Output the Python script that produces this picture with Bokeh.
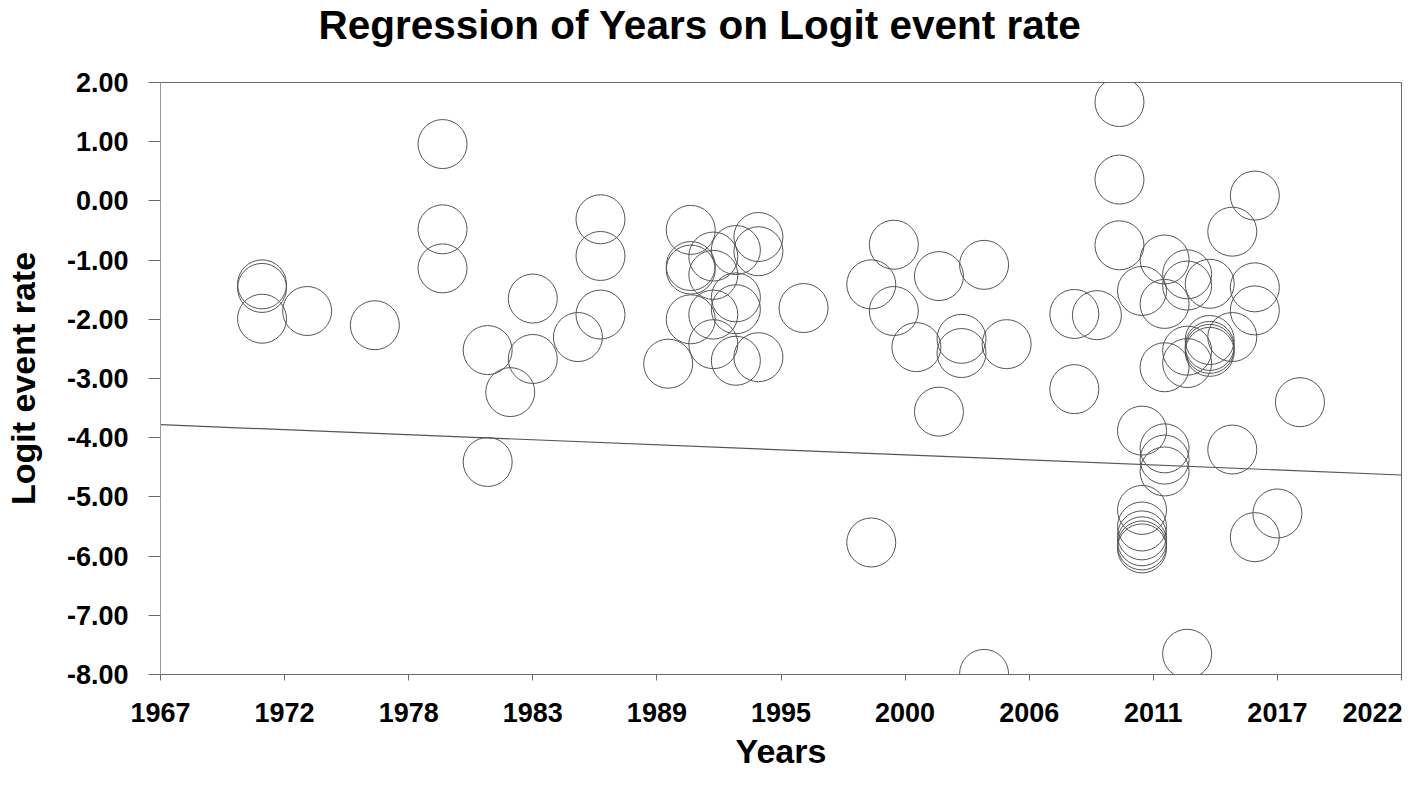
from bokeh.plotting import figure
from bokeh.models import FixedTicker, NumeralTickFormatter, ColumnDataSource, Range1d, Title
from bokeh.embed import file_html
from bokeh.resources import INLINE

title_text = "Regression of Years on Logit event rate"
x_label = "Years"
y_label = "Logit event rate"

x_ticks = [1967, 1972.5, 1978, 1983.5, 1989, 1994.5, 2000, 2005.5, 2011, 2016.5, 2022]
x_tick_labels = ["1967", "1972", "1978", "1983", "1989", "1995", "2000", "2006", "2011", "2017", "2022"]
y_ticks = [-8, -7, -6, -5, -4, -3, -2, -1, 0, 1, 2]

years = [
    1971.5, 1971.5, 1971.5,
    1973.5,
    1976.5,
    1979.5, 1979.5, 1979.5,
    1981.5, 1981.5,
    1982.5,
    1983.5, 1983.5,
    1985.5,
    1986.5, 1986.5, 1986.5,
    1989.5,
    1990.5, 1990.5, 1990.5, 1990.5,
    1991.5, 1991.5, 1991.5, 1991.5,
    1992.5, 1992.5, 1992.5, 1992.5,
    1993.5, 1993.5, 1993.5,
    1995.5,
    1998.5, 1998.5,
    1999.5, 1999.5,
    2000.5,
    2001.5, 2001.5,
    2002.5, 2002.5,
    2003.5, 2003.5,
    2004.5,
    2007.5, 2007.5,
    2008.5,
    2009.5, 2009.5, 2009.5,
    2010.5, 2010.5, 2010.5, 2010.5, 2010.5, 2010.5, 2010.5, 2010.5,
    2011.5, 2011.5, 2011.5, 2011.5, 2011.5, 2011.5,
    2012.5, 2012.5, 2012.5, 2012.5, 2012.5,
    2013.5, 2013.5, 2013.5, 2013.5, 2013.5,
    2014.5, 2014.5, 2014.5,
    2015.5, 2015.5, 2015.5, 2015.5,
    2016.5,
    2017.5,
]
logit = [
    -1.41, -1.47, -1.99,
    -1.86,
    -2.10,
    0.96, -0.48, -1.14,
    -2.52, -4.41,
    -3.23,
    -1.65, -2.67,
    -2.30,
    -0.31, -0.93, -1.92,
    -2.75,
    -0.49, -1.10, -1.16, -2.00,
    -0.94, -1.25, -1.92, -2.42,
    -0.83, -1.63, -1.83, -2.70,
    -0.61, -0.85, -2.64,
    -1.81,
    -1.41, -5.77,
    -0.74, -1.86,
    -2.47,
    -1.27, -3.56,
    -2.33, -2.57,
    -1.08, -7.99,
    -2.42,
    -1.91, -3.18,
    -1.93,
    1.67, 0.36, -0.75,
    -1.52, -3.88, -5.22, -5.50, -5.65, -5.75, -5.82, -5.87,
    -0.99, -1.74, -2.81, -4.18, -4.37, -4.57,
    -1.24, -1.43, -2.53, -2.74, -7.65,
    -1.40, -2.35, -2.45, -2.50, -2.55,
    -0.52, -2.30, -4.20,
    0.09, -1.46, -1.85, -5.68,
    -5.28,
    -3.40,
]

reg_years = [1967, 2022]
reg_logit = [-3.78, -4.63]

FONT = "Liberation Sans"

p = figure(
    width=1402, height=775,
    x_range=Range1d(1967, 2022), y_range=Range1d(-8, 2),
    output_backend="svg", toolbar_location=None,
    min_border_left=155, min_border_right=1, min_border_top=82, min_border_bottom=101,
)
p.background_fill_color = "white"
p.border_fill_color = "white"
p.outline_line_color = "#6a6a6a"
p.outline_line_width = 1
p.xgrid.visible = False
p.ygrid.visible = False

# invisible spacer between the frame and the title, so the title sits near the top edge
spacer = Title(text=" ", text_font=FONT, text_font_size="10px", standoff=20)
p.add_layout(spacer, "above")

main_title = Title(
    text=title_text, text_font=FONT, text_font_style="bold",
    text_font_size="40.5px", text_color="black",
    align="left", offset=158, vertical_align="top", standoff=0,
)
p.add_layout(main_title, "above")

src = ColumnDataSource(dict(x=years, y=logit))
p.scatter("x", "y", source=src, size=49, marker="circle",
          fill_color=None, line_color="#555555", line_width=1)

p.line(reg_years, reg_logit, line_color="#555555", line_width=1.2)

xa = p.xaxis[0]
xa.ticker = FixedTicker(ticks=x_ticks)
xa.major_label_overrides = {t: l for t, l in zip(x_ticks, x_tick_labels)}
xa.axis_label = x_label
xa.axis_line_color = "#6a6a6a"
xa.major_tick_line_color = "#6a6a6a"
xa.major_tick_out = 6
xa.major_tick_in = 0
xa.minor_tick_line_color = None
xa.major_label_standoff = 22
xa.axis_label_standoff = 7

ya = p.yaxis[0]
ya.ticker = FixedTicker(ticks=y_ticks)
ya.formatter = NumeralTickFormatter(format="0.00")
ya.axis_label = y_label
ya.axis_line_color = "#9a9a9a"
ya.major_tick_line_color = "#6a6a6a"
ya.major_tick_out = 12
ya.major_tick_in = 0
ya.minor_tick_line_color = None
ya.major_label_standoff = 20
ya.axis_label_standoff = 22

for ax in (xa, ya):
    ax.major_label_text_font = FONT
    ax.major_label_text_font_style = "bold"
    ax.major_label_text_font_size = "27px"
    ax.major_label_text_color = "black"
    ax.axis_label_text_font = FONT
    ax.axis_label_text_font_style = "bold"
    ax.axis_label_text_font_size = "34px"
    ax.axis_label_text_color = "black"

open("out.html", "w").write(file_html(p, INLINE))
